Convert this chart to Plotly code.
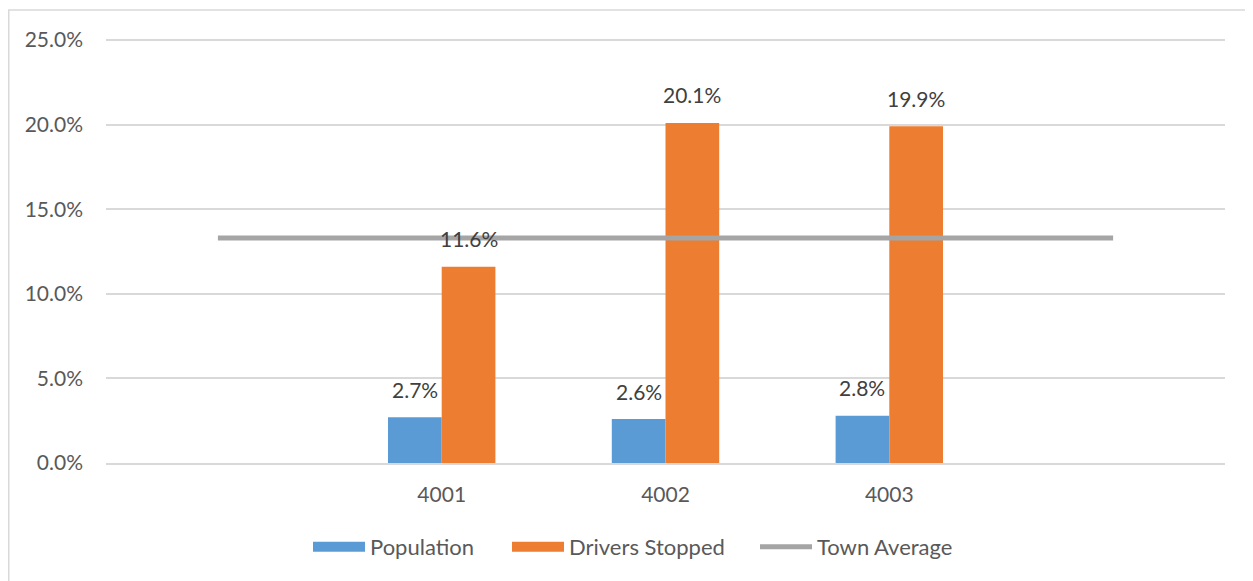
import plotly.graph_objects as go

categories = ["", "4001", "4002", "4003", ""]
population = [None, 0.027, 0.026, 0.028, None]
drivers_stopped = [None, 0.116, 0.201, 0.199, None]
town_average = [0.133, 0.133, 0.133, 0.133, 0.133]

BLUE = "#5B9BD5"
ORANGE = "#ED7D31"
GRAY = "#A5A5A5"
FONT = "Lato"

# the page body adds an 8px offset; compensate
OFF = 8
W, H = 1253 - OFF, 581 - OFF
ML, MT = 106 - OFF, 39 - OFF
MR = W - (1225 - OFF)
MB = H - (463 - OFF)
plot_w = W - ML - MR
plot_h = H - MT - MB
bargap = 0.52
bar_px = plot_w / len(categories) * (1 - bargap) / 2
xpos = list(range(len(categories)))


def px_x(p):  # page pixel -> paper x
    return (p - OFF - ML) / plot_w


def px_y(p):  # page pixel -> paper y
    return (plot_h + MT - (p - OFF)) / plot_h


fig = go.Figure()
fig.add_trace(go.Bar(x=xpos, y=population, name="Population",
                     marker=dict(color=BLUE, line=dict(width=0)), showlegend=False))
fig.add_trace(go.Bar(x=xpos, y=drivers_stopped, name="Drivers Stopped",
                     marker=dict(color=ORANGE, line=dict(width=0)), showlegend=False))
fig.add_trace(go.Scatter(x=xpos, y=town_average, name="Town Average", mode="lines",
                         line=dict(color=GRAY, width=5), showlegend=False))

# legend proxies, each in its own legend so spacing can match
fig.add_trace(go.Scatter(x=[None], y=[None], name="Population", mode="lines",
                         line=dict(color=BLUE, width=14), legend="legend"))
fig.add_trace(go.Scatter(x=[None], y=[None], name="Drivers Stopped", mode="lines",
                         line=dict(color=ORANGE, width=14), legend="legend2"))
fig.add_trace(go.Scatter(x=[None], y=[None], name="Town Average", mode="lines",
                         line=dict(color=GRAY, width=5), legend="legend3"))

for series, shift in ((population, -bar_px / 2), (drivers_stopped, bar_px / 2)):
    for xi, v in zip(xpos, series):
        if v is None:
            continue
        fig.add_annotation(x=xi, y=v, text=f"{v*100:.1f}%", showarrow=False,
                           xshift=shift, yshift=28, yanchor="middle",
                           font=dict(family=FONT, size=21, color="#404040"))

fig.add_shape(type="rect", xref="paper", yref="paper",
              x0=px_x(OFF + 0.75), x1=1.3, y0=-0.6, y1=px_y(10),
              line=dict(color="#D9D9D9", width=1.5), fillcolor="rgba(0,0,0,0)", layer="below")

leg_common = dict(orientation="h", xanchor="left", yanchor="middle", y=px_y(547),
                  itemwidth=52, font=dict(family=FONT, size=22, color="#595959"),
                  bgcolor="rgba(0,0,0,0)")

fig.update_layout(
    width=W, height=H,
    margin=dict(l=ML, r=MR, t=MT, b=MB, autoexpand=False),
    paper_bgcolor="white", plot_bgcolor="white",
    barmode="group", bargap=bargap, bargroupgap=0,
    font=dict(family=FONT, size=21, color="#595959"),
    showlegend=True,
    legend=dict(x=px_x(308), **leg_common),
    legend2=dict(x=px_x(507), **leg_common),
    legend3=dict(x=px_x(755), **leg_common),
    xaxis=dict(range=[-0.5, len(categories) - 0.5], tickvals=xpos, ticktext=categories,
               showgrid=False, showline=True, linecolor="#D9D9D9", automargin=False,
               linewidth=1.5, ticks="", ticklabelstandoff=12, zeroline=False,
               tickfont=dict(family=FONT, size=21, color="#595959")),
    yaxis=dict(range=[0, 0.2506], tickvals=[0, 0.05, 0.10, 0.15, 0.20, 0.25],
               tickformat=".1%", showgrid=True, automargin=False,
               gridcolor="#D9D9D9", gridwidth=1.5, zeroline=False, showline=False,
               ticks="", ticklabelstandoff=22,
               tickfont=dict(family=FONT, size=21, color="#595959")),
)

fig.write_html("out.html")
